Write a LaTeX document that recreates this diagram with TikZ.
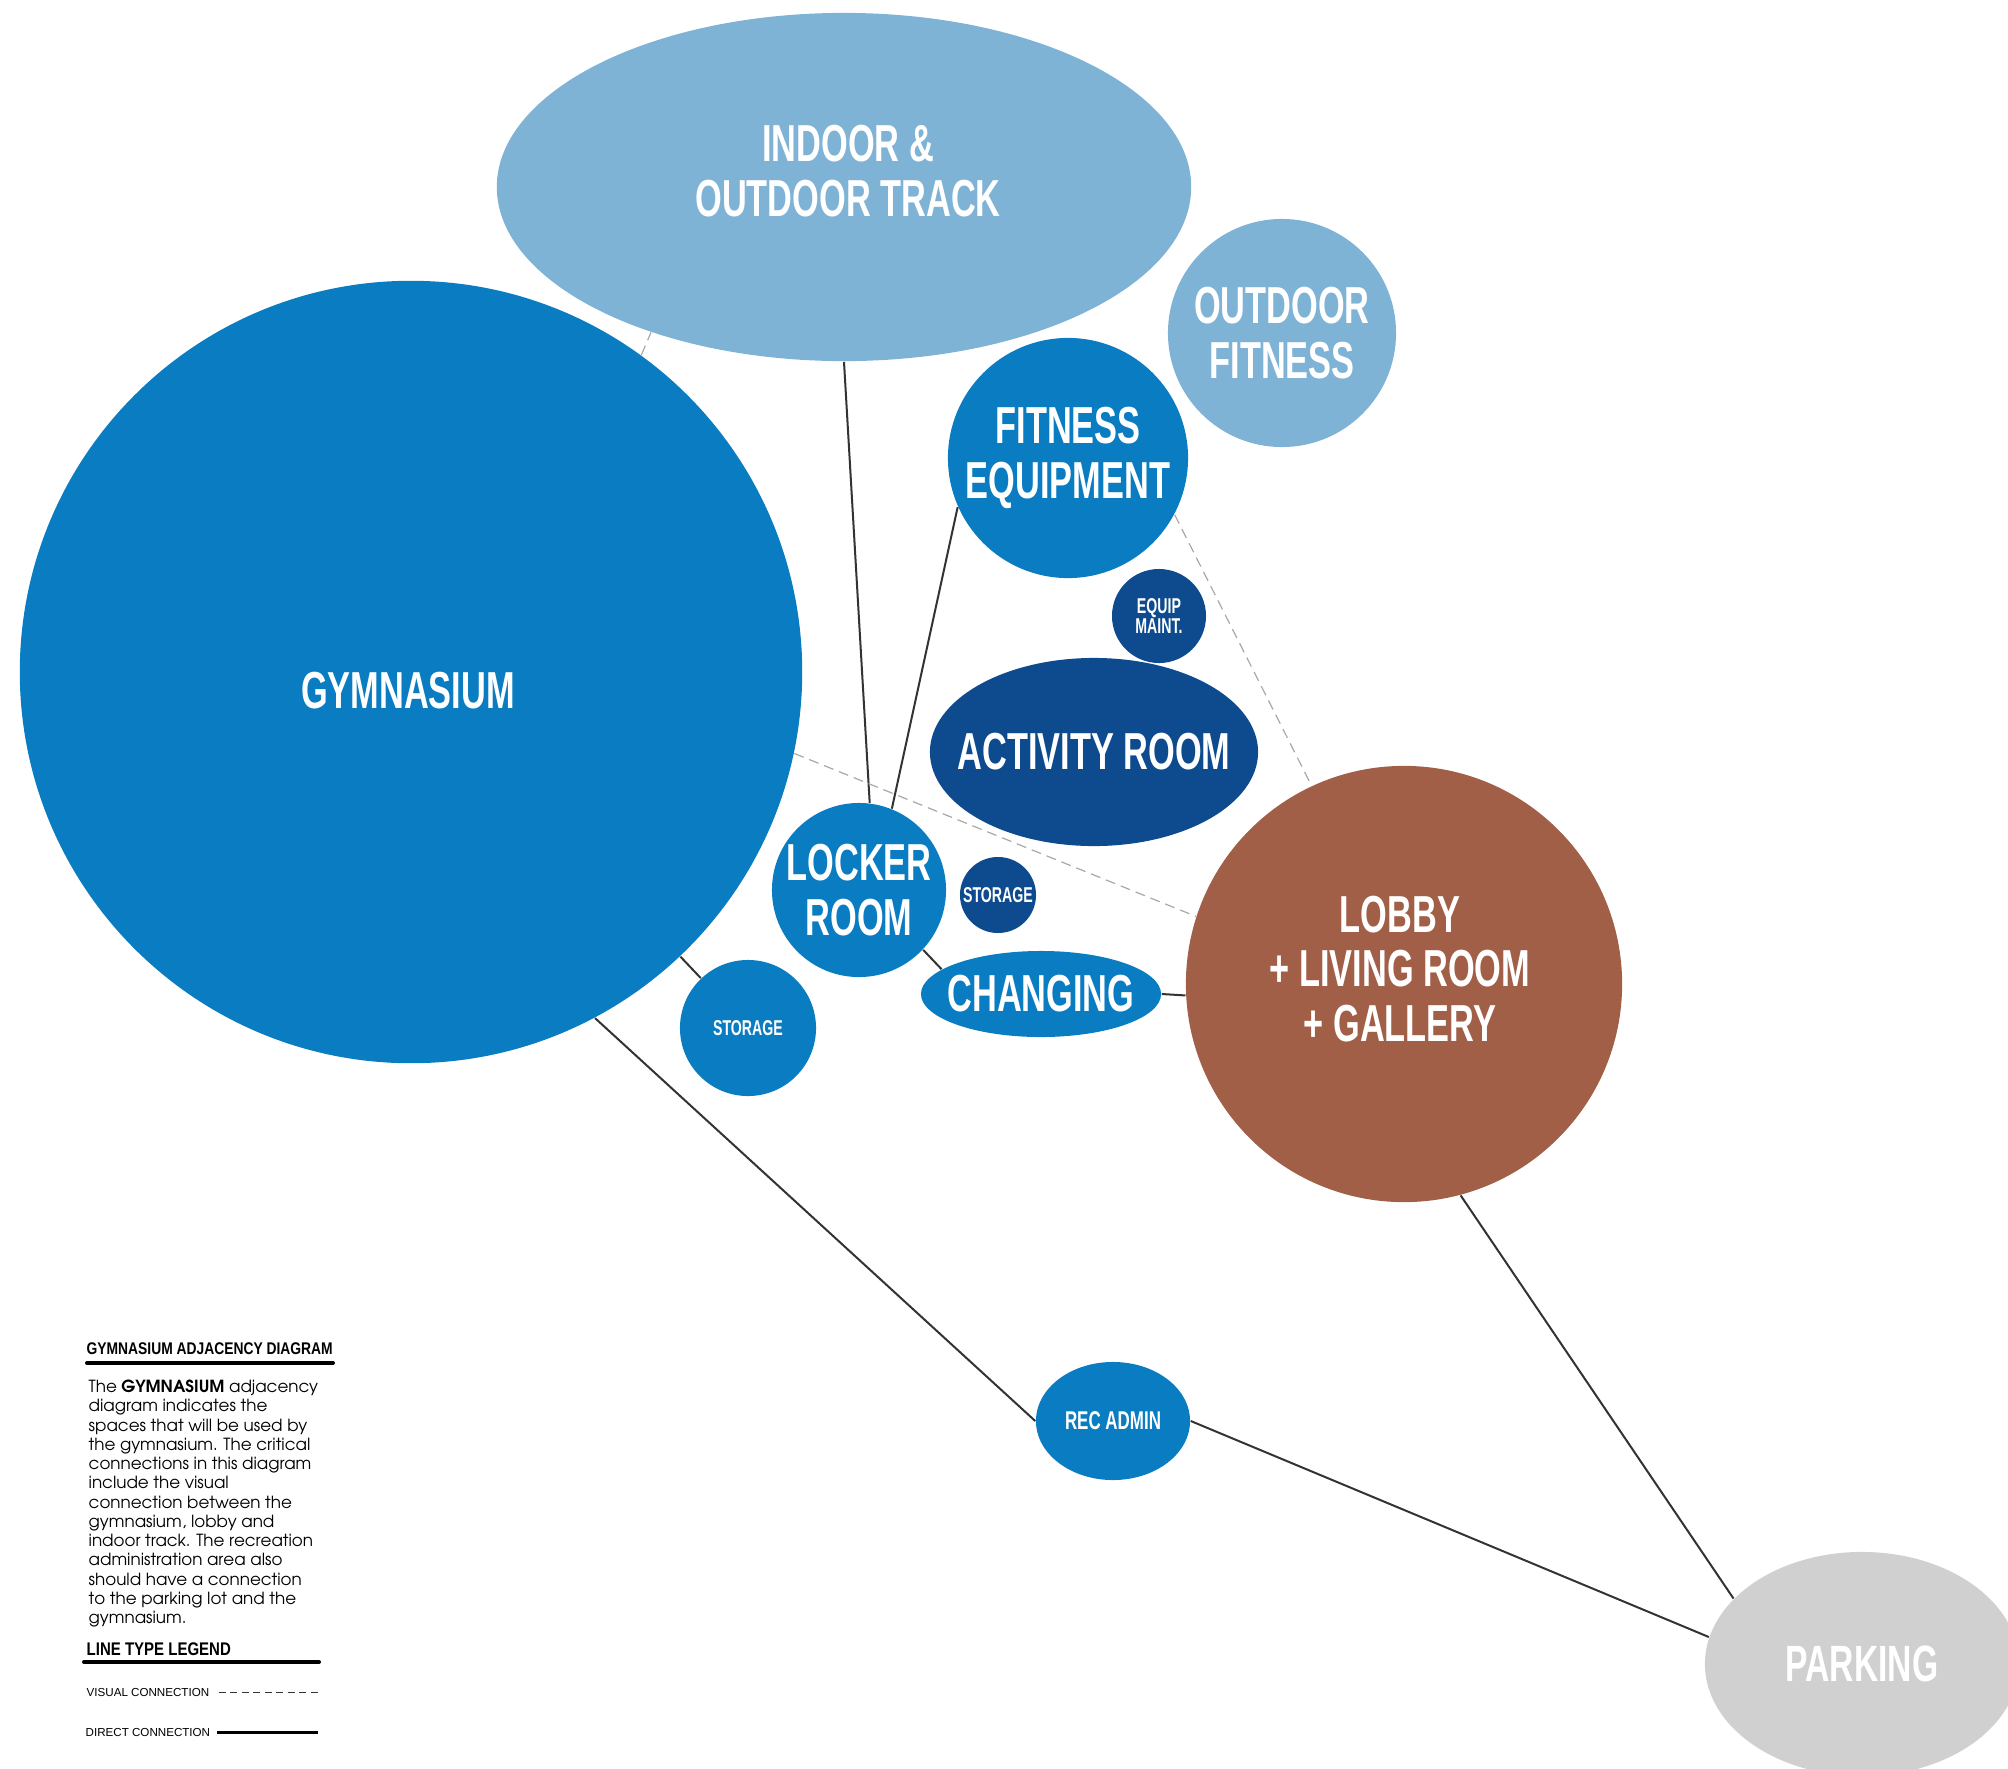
\documentclass[tikz,border=0pt]{standalone}
\usepackage[T1]{fontenc}
\usepackage{fontspec}
\usetikzlibrary{shapes.geometric}

\newfontfamily\roomfont[FakeStretch=0.66]{Liberation Sans}
\newfontfamily\legendfont[FakeStretch=0.82]{Liberation Sans}
\newfontfamily\smallfont{Liberation Sans}
\newcommand\bodyfont{\fontencoding{T1}\fontfamily{pag}\selectfont}

\definecolor{tracklight}{HTML}{7FB3D6}
\definecolor{roomblue}{HTML}{0A7CC1}
\definecolor{roomdark}{HTML}{0D4A8E}
\definecolor{lobbybrown}{HTML}{A25F48}
\definecolor{parkgray}{HTML}{D0D0D0}
\definecolor{visgray}{HTML}{A8A8A8}
\definecolor{linegray}{HTML}{333333}

\begin{document}
\begin{tikzpicture}[x=0.01cm,y=-0.01cm,
        room/.style={text=white,align=center,inner sep=0pt,
          font=\roomfont\bfseries\fontsize{14.8}{15.6}\selectfont},
        tiny/.style={font=\roomfont\bfseries\fontsize{6.1}{5.7}\selectfont},
        bar/.style={line width=0.4mm,line cap=round}]

        \useasboundingbox (0,0) rectangle (2008,1769);
        \clip (0,0) rectangle (2008,1769);

        \begin{scope}[every node/.style={room,circle}]
          \node[ellipse,fill=tracklight,minimum width=6.94cm,minimum height=3.48cm] (track) at (844,187) {};
          \node[fill=roomblue,minimum size=7.82cm]   (gym)      at (411,672)   {};
          \node[fill=tracklight,minimum size=2.28cm] (outfit)   at (1282,333)  {OUTDOOR\\FITNESS};
          \node[fill=roomblue,minimum size=2.40cm]   (fitness)  at (1068,458)  {FITNESS\\EQUIPMENT};
          \node[fill=roomdark,minimum size=0.94cm,tiny] (maint) at (1159,616)  {EQUIP\\MAINT.};
          \node[ellipse,fill=roomdark,minimum width=3.28cm,minimum height=1.88cm,inner xsep=-3.5mm] (activity) at (1094,752) {ACTIVITY ROOM};
          \node[fill=roomblue,minimum size=1.74cm]   (locker)   at (859,890)   {LOCKER\\ROOM};
          \node[fill=roomdark,minimum size=0.76cm,tiny] (store1) at (998,895)  {STORAGE};
          \node[ellipse,fill=roomblue,minimum width=2.40cm,minimum height=0.86cm,inner xsep=-1mm] (changing) at (1041,994) {CHANGING};
          \node[fill=roomblue,minimum size=1.36cm,tiny] (store2) at (748,1028) {STORAGE};
          \node[fill=lobbybrown,minimum size=4.36cm] (lobby)    at (1404,984)  {};
          \node[ellipse,fill=roomblue,minimum width=1.54cm,minimum height=1.18cm,
                font=\roomfont\bfseries\fontsize{7.3}{8}\selectfont] (recadmin) at (1113,1421) {REC ADMIN};
          \node[ellipse,fill=parkgray,minimum width=3.14cm,minimum height=2.24cm,
                font=\roomfont\bfseries\fontsize{14.5}{15}\selectfont] (parking) at (1862,1664) {PARKING};
        \end{scope}

        \begin{scope}[every node/.style={room}]
          \node (tracktext) at (848,171) {INDOOR \&\\OUTDOOR TRACK};
          \node (gymtext)   at (408,691) {GYMNASIUM};
          \node (lobbytext) at (1400,969) {LOBBY\\+ LIVING ROOM\\+ GALLERY};
        \end{scope}

        \begin{scope}[every edge/.style={draw,linegray,line width=0.2mm}]
          \path (track.south)  edge (locker.83);
          \path (fitness.204)  edge (locker.68);
          \path (gym)          edge (store2);
          \path (gym.298)      edge (recadmin.west);
          \path (recadmin.east) edge (parking.170);
          \path (lobby.285)    edge (parking.153);
          \path (locker.317)   edge (changing.166);
          \path (changing.east) edge (lobby.183);
        \end{scope}

        \begin{scope}[every edge/.style={draw,visgray,line width=0.12mm,dash pattern=on 1mm off 0.6mm}]
          \path (gym.348)      edge (lobby.162);
          \path (fitness.332)  edge (lobby.115);
          \path (gym.54)       edge (track.217);
        \end{scope}

        \begin{scope}[every node/.style={anchor=west,inner sep=0pt}]
          \node[font=\legendfont\bfseries\fontsize{4.8}{5}\selectfont] (legtitle) at (86,1349) {GYMNASIUM ADJACENCY DIAGRAM};
          \node[anchor=north west,align=left,font=\bodyfont\fontsize{4.75}{5.48}\selectfont] (legbody) at (88,1379)
            {The \textbf{GYMNASIUM} adjacency\\diagram indicates the\\spaces that will be used by\\the gymnasium. The critical\\connections in this diagram\\include the visual\\connection between the\\gymnasium, lobby and\\indoor track. The recreation\\administration area also\\should have a connection\\to the parking lot and the\\gymnasium.};
          \node[font=\legendfont\bfseries\fontsize{5.2}{6}\selectfont] (legtype) at (86,1649) {LINE TYPE LEGEND};
          \node[font=\smallfont\fontsize{3.3}{4}\selectfont] (vislab) at (86,1692) {VISUAL CONNECTION};
          \node[font=\smallfont\fontsize{3.3}{4}\selectfont] (dirlab) at (85,1732) {DIRECT CONNECTION};
        \end{scope}

        \coordinate (bar1a) at (87,1363);
        \coordinate (bar1b) at (333,1363);
        \coordinate (bar2a) at (84,1662);
        \coordinate (bar2b) at (319,1662);
        \coordinate (visend) at (318,1692);
        \coordinate (dirend) at (318,1732);

        \draw[bar] (bar1a) -- (bar1b);
        \draw[bar] (bar2a) -- (bar2b);
        \draw[linegray,line width=0.1mm,dash pattern=on 0.7mm off 0.45mm] ([xshift=0.9mm]vislab.east) -- (visend);
        \draw[black,line width=0.3mm] ([xshift=0.6mm]dirlab.east) -- (dirend);

      \end{tikzpicture}
\end{document}
